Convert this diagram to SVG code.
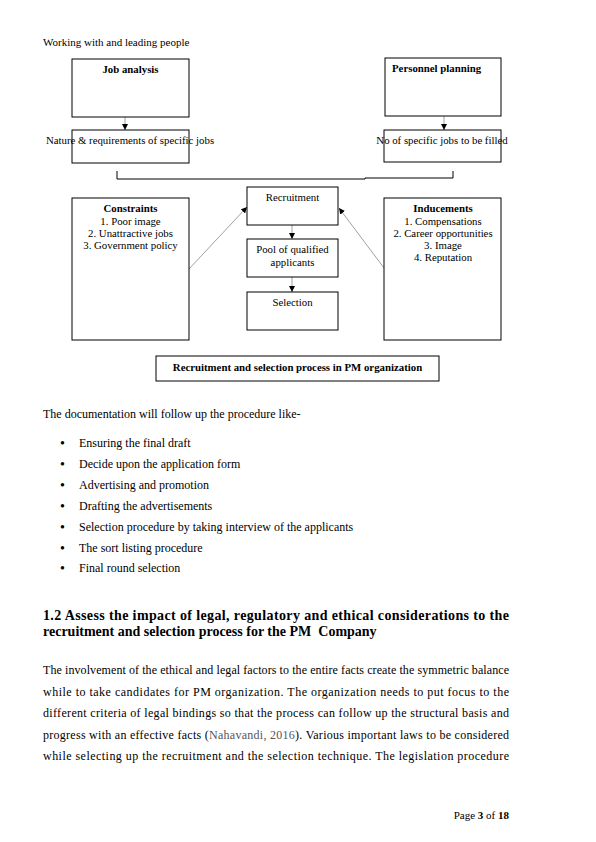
<svg xmlns="http://www.w3.org/2000/svg" width="596" height="842" viewBox="0 0 596 842">
<style>
text{font-family:"Liberation Serif","Times New Roman",serif;fill:#000}
.d{font-size:10.8px}
.b{font-weight:bold}
.m{text-anchor:middle}
.box{fill:none;stroke:#000;stroke-width:1}
.c{stroke:#888;stroke-width:0.8;fill:none}
.k{stroke:#000;stroke-width:1;fill:none}
.p{font-size:12px}
.bu{font-size:14px}
</style>
<defs>
<marker id="ah" viewBox="0 0 10 10" refX="10" refY="5" markerWidth="6" markerHeight="6" orient="auto" markerUnits="userSpaceOnUse">
<path d="M0,0 L10,5 L0,10 z" fill="#000"/>
</marker>
</defs>
<rect width="596" height="842" fill="#fff"/>
<text x="43" y="46" style="font-size:11px">Working with and leading people</text>

<g id="connectors">
<line class="c" x1="125" y1="117" x2="125" y2="130" marker-end="url(#ah)"/>
<line class="c" x1="444" y1="116" x2="444" y2="130" marker-end="url(#ah)"/>
<polyline class="k" points="117,171 117,179 365,179 365,178 453,178 453,171"/>
<line class="c" x1="292" y1="225" x2="292" y2="239" marker-end="url(#ah)"/>
<line class="c" x1="292" y1="277" x2="292" y2="292" marker-end="url(#ah)"/>
<line class="c" x1="189" y1="269" x2="247" y2="207" marker-end="url(#ah)"/>
<line class="c" x1="384" y1="268" x2="339" y2="208" marker-end="url(#ah)"/>
</g>

<g id="job-analysis">
<rect class="box" x="72" y="59" width="117" height="58"/>
<text class="d b m" x="130.5" y="73">Job analysis</text>
</g>
<g id="nature">
<rect class="box" x="72" y="130" width="117" height="33"/>
<text class="d m" x="130" y="144">Nature &amp; requirements of specific jobs</text>
</g>
<g id="personnel-planning">
<rect class="box" x="385" y="58" width="116" height="58"/>
<text class="d b" x="392" y="72">Personnel planning</text>
</g>
<g id="no-jobs">
<rect class="box" x="384" y="130" width="117" height="32"/>
<text class="d m" x="442" y="144">No of specific jobs to be filled</text>
</g>
<g id="constraints">
<rect class="box" x="72" y="198" width="117" height="142"/>
<text class="d b m" x="130.5" y="212">Constraints</text>
<text class="d m" x="130.5" y="225">1. Poor image</text>
<text class="d m" x="130.5" y="237">2. Unattractive jobs</text>
<text class="d m" x="130.5" y="249">3. Government policy</text>
</g>
<g id="recruitment">
<rect class="box" x="247" y="187" width="91" height="38"/>
<text class="d m" x="292.5" y="201">Recruitment</text>
</g>
<g id="pool">
<rect class="box" x="247" y="239" width="91" height="38"/>
<text class="d m" x="292.5" y="253">Pool of qualified</text>
<text class="d m" x="292.5" y="266">applicants</text>
</g>
<g id="selection">
<rect class="box" x="247" y="292" width="91" height="38"/>
<text class="d m" x="292.5" y="306">Selection</text>
</g>
<g id="inducements">
<rect class="box" x="384" y="198" width="117" height="142"/>
<text class="d b m" x="443" y="212">Inducements</text>
<text class="d m" x="443" y="225">1. Compensations</text>
<text class="d m" x="443" y="237">2. Career opportunities</text>
<text class="d m" x="443" y="249">3. Image</text>
<text class="d m" x="443" y="261">4. Reputation</text>
</g>
<g id="caption">
<rect class="box" x="156" y="356" width="283" height="25"/>
<text class="d b m" x="297.5" y="371">Recruitment and selection process in PM organization</text>
</g>

<text class="p" x="43" y="418">The documentation will follow up the procedure like-</text>
<g class="p">
<text class="bu" x="60" y="448">•</text><text x="79" y="447">Ensuring the final draft</text>
<text class="bu" x="60" y="469">•</text><text x="79" y="468">Decide upon the application form</text>
<text class="bu" x="60" y="490">•</text><text x="79" y="489">Advertising and promotion</text>
<text class="bu" x="60" y="511">•</text><text x="79" y="510">Drafting the advertisements</text>
<text class="bu" x="60" y="532">•</text><text x="79" y="531">Selection procedure by taking interview of the applicants</text>
<text class="bu" x="60" y="553">•</text><text x="79" y="552">The sort listing procedure</text>
<text class="bu" x="60" y="573">•</text><text x="79" y="572">Final round selection</text>
</g>

<text class="b" x="43" y="620" style="font-size:14px" textLength="466" lengthAdjust="spacing">1.2 Assess the impact of legal, regulatory and ethical considerations to the</text>
<text class="b" x="43" y="636" style="font-size:14px">recruitment and selection process for the PM&#160; Company</text>

<g class="p">
<text x="43" y="674" textLength="466" lengthAdjust="spacing">The involvement of the ethical and legal factors to the entire facts create the symmetric balance</text>
<text x="43" y="696" textLength="466" lengthAdjust="spacing">while to take candidates for PM organization. The organization needs to put focus to the</text>
<text x="43" y="717" textLength="466" lengthAdjust="spacing">different criteria of legal bindings so that the process can follow up the structural basis and</text>
<text x="43" y="739" textLength="466" lengthAdjust="spacing">progress with an effective facts (<tspan fill="#555">Nahavandi, 2016</tspan>). Various important laws to be considered</text>
<text x="43" y="760" textLength="466" lengthAdjust="spacing">while selecting up the recruitment and the selection technique. The legislation procedure</text>
</g>

<text x="509" y="819" style="font-size:11px;text-anchor:end">Page <tspan font-weight="bold">3</tspan> of <tspan font-weight="bold">18</tspan></text>
</svg>
